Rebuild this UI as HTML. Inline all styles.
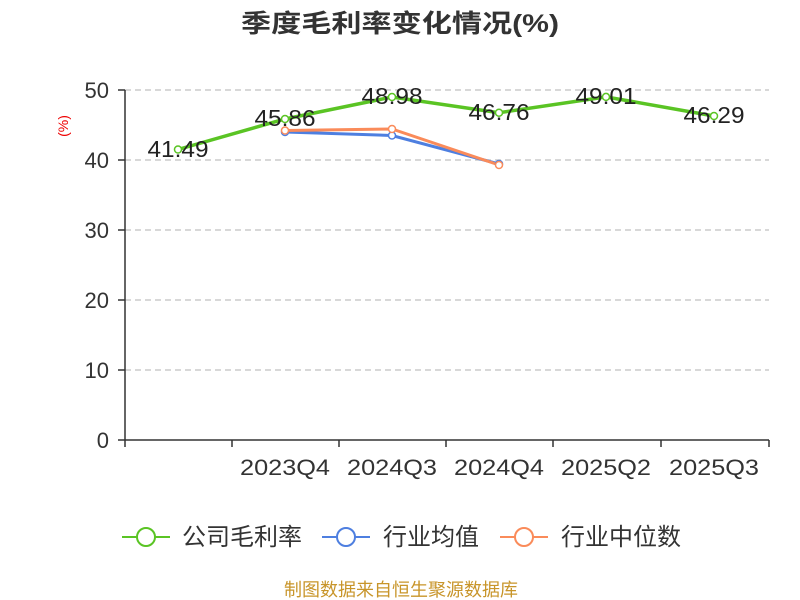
<!DOCTYPE html><html><head><meta charset="utf-8"><style>body{margin:0;background:#fff}svg{display:block}text{font-family:"Liberation Sans","Noto Sans CJK SC",sans-serif}</style></head><body>
<svg width="800" height="600" xmlns="http://www.w3.org/2000/svg">
<text x="400" y="32" text-anchor="middle" font-size="25" font-weight="bold" fill="#333" textLength="318" lengthAdjust="spacingAndGlyphs">季度毛利率变化情况(%)</text>
<text x="68" y="126" font-size="14" fill="#e00" transform="rotate(-90 68 126)" text-anchor="middle">(%)</text>
<g stroke="#ccc" stroke-dasharray="6,4" stroke-width="1.5">
<line x1="125" x2="769" y1="90" y2="90"/><line x1="125" x2="769" y1="160" y2="160"/><line x1="125" x2="769" y1="230" y2="230"/><line x1="125" x2="769" y1="300" y2="300"/><line x1="125" x2="769" y1="370" y2="370"/></g>
<g stroke="#333" stroke-width="1.5"><line x1="125" x2="125" y1="90" y2="440"/><line x1="125" x2="769" y1="440" y2="440"/>
<line x1="118" x2="125" y1="90" y2="90"/><line x1="118" x2="125" y1="160" y2="160"/><line x1="118" x2="125" y1="230" y2="230"/><line x1="118" x2="125" y1="300" y2="300"/><line x1="118" x2="125" y1="370" y2="370"/><line x1="118" x2="125" y1="440" y2="440"/>
<line x1="125" x2="125" y1="440" y2="447"/><line x1="232" x2="232" y1="440" y2="447"/><line x1="339" x2="339" y1="440" y2="447"/><line x1="446" x2="446" y1="440" y2="447"/><line x1="553" x2="553" y1="440" y2="447"/><line x1="661" x2="661" y1="440" y2="447"/><line x1="769" x2="769" y1="440" y2="447"/></g>
<g font-size="22" fill="#333" text-anchor="end"><text x="109" y="98">50</text><text x="109" y="168">40</text><text x="109" y="238">30</text><text x="109" y="308">20</text><text x="109" y="378">10</text><text x="109" y="448">0</text></g>
<g font-size="22" fill="#333" text-anchor="middle"><text x="285" y="475" textLength="90" lengthAdjust="spacingAndGlyphs">2023Q4</text><text x="392" y="475" textLength="90" lengthAdjust="spacingAndGlyphs">2024Q3</text><text x="499" y="475" textLength="90" lengthAdjust="spacingAndGlyphs">2024Q4</text><text x="606" y="475" textLength="90" lengthAdjust="spacingAndGlyphs">2025Q2</text><text x="714" y="475" textLength="90" lengthAdjust="spacingAndGlyphs">2025Q3</text></g>
<polyline points="178,149.5 285,119 392,97 499,112.7 606,96.9 714,116" fill="none" stroke="#5ac424" stroke-width="3.5"/>
<polyline points="285,132 392,135.5 499,164" fill="none" stroke="#4e7fe0" stroke-width="3"/>
<polyline points="285,130.5 392,129 499,165" fill="none" stroke="#fa8b5a" stroke-width="3"/>
<g fill="#fff" stroke="#5ac424" stroke-width="1.5"><circle cx="178" cy="149.5" r="3.5"/><circle cx="285" cy="119" r="3.5"/><circle cx="392" cy="97" r="3.5"/><circle cx="499" cy="112.7" r="3.5"/><circle cx="606" cy="96.9" r="3.5"/><circle cx="714" cy="116" r="3.5"/></g>
<g fill="#fff" stroke="#4e7fe0" stroke-width="1.5"><circle cx="285" cy="132" r="3.5"/><circle cx="392" cy="135.5" r="3.5"/><circle cx="499" cy="164" r="3.5"/></g>
<g fill="#fff" stroke="#fa8b5a" stroke-width="1.5"><circle cx="285" cy="130.5" r="3.5"/><circle cx="392" cy="129" r="3.5"/><circle cx="499" cy="165" r="3.5"/></g>
<g font-size="23" fill="#222" text-anchor="middle"><text x="178" y="157" textLength="61" lengthAdjust="spacingAndGlyphs">41.49</text><text x="285" y="126" textLength="61" lengthAdjust="spacingAndGlyphs">45.86</text><text x="392" y="104" textLength="61" lengthAdjust="spacingAndGlyphs">48.98</text><text x="499" y="120" textLength="61" lengthAdjust="spacingAndGlyphs">46.76</text><text x="606" y="104" textLength="61" lengthAdjust="spacingAndGlyphs">49.01</text><text x="714" y="123" textLength="61" lengthAdjust="spacingAndGlyphs">46.29</text></g>
<g stroke-width="2" fill="#fff"><line x1="122" x2="170" y1="537" y2="537" stroke="#5ac424"/><circle cx="146" cy="537" r="9" stroke="#5ac424"/>
<line x1="322" x2="370" y1="537" y2="537" stroke="#4e7fe0"/><circle cx="346" cy="537" r="9" stroke="#4e7fe0"/>
<line x1="500" x2="548" y1="537" y2="537" stroke="#fa8b5a"/><circle cx="524" cy="537" r="9" stroke="#fa8b5a"/></g>
<g font-size="24" fill="#333"><text x="182" y="545">公司毛利率</text><text x="383" y="545">行业均值</text><text x="561" y="545">行业中位数</text></g>
<text x="401" y="596" text-anchor="middle" font-size="18" fill="#c8952a">制图数据来自恒生聚源数据库</text>
</svg></body></html>
